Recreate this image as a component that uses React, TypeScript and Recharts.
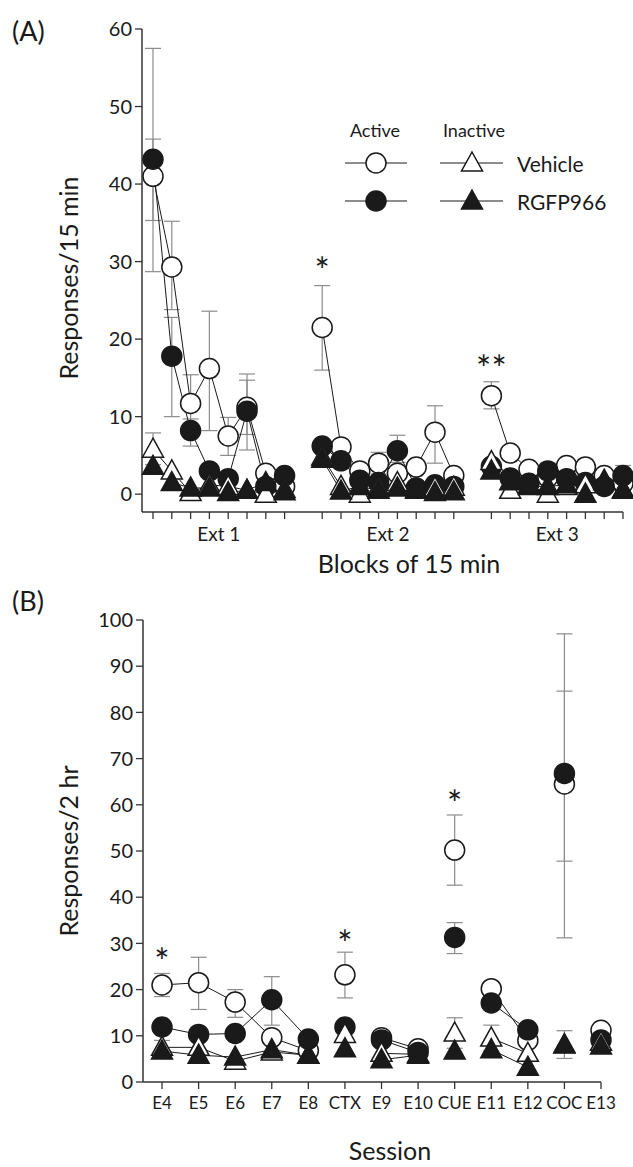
import React from 'react';
import { LineChart, Line, XAxis, YAxis, ErrorBar, ReferenceDot } from 'recharts';

const FONT = 'Lato, "Open Sans", sans-serif';
const INK = '#1a1a1a';
const BAR = '#8c8c8c';

// ---------- Panel A: responses per 15-min block, three extinction sessions ----------
const extNames = ['Ext 1', 'Ext 2', 'Ext 3'];
const blocksPerExt = 8;

// active lever, vehicle (open circles)
const activeVehA = [
  41, 29.3, 11.7, 16.2, 7.5, 11.2, 2.7, 1.0,
  21.5, 6.1, 3.0, 4.0, 2.7, 3.5, 8.0, 2.4,
  12.7, 5.3, 3.2, 2.2, 3.7, 3.5, 2.4, 1.4,
];
// active lever, RGFP966 (filled circles)
const activeDrugA = [
  43.2, 17.8, 8.2, 3.0, 2.0, 10.7, 1.0, 2.4,
  6.2, 4.3, 1.8, 1.5, 5.6, 0.8, 1.2, 1.0,
  3.6, 2.1, 1.4, 3.0, 2.0, 1.5, 1.0, 2.4,
];
// inactive lever, vehicle (open triangles)
const inactiveVehA = [
  5.8, 3.0, 0.2, 1.2, 1.0, 0.5, 0.0, 0.6,
  4.8, 1.0, 0.0, 0.8, 1.5, 0.6, 0.8, 0.9,
  4.2, 0.5, 1.2, 0.0, 1.0, 1.2, 1.6, 0.5,
];
// inactive lever, RGFP966 (filled triangles)
const inactiveDrugA = [
  3.6, 1.5, 0.8, 0.8, 0.2, 0.5, 1.5, 0.3,
  4.5, 0.4, 1.0, 0.5, 0.8, 0.5, 0.2, 0.3,
  3.0, 1.6, 1.0, 1.0, 1.2, 0.0, 1.8, 0.6,
];
// SEM as [below, above]
const activeVehErrA = [
  [12.3, 16.5], [5.5, 5.9], [3, 3.7], [8, 7.4], [2.5, 2.4], [3.5, 4.3], [0.6, 0.6], [0.5, 0.5],
  [5.5, 5.4], [0.8, 0.8], [0.6, 0.6], [1.4, 1.4], [0.8, 0.8], [0.8, 0.8], [4, 3.4], [0.6, 0.6],
  [1.7, 1.8], [0.8, 0.8], [0.6, 0.6], [0.5, 0.5], [0.7, 0.7], [1, 1], [0.6, 0.6], [0.5, 0.5],
];
const activeDrugErrA = [
  [7.9, 2.6], [7.8, 5], [2, 1.5], [0.8, 0.8], [0.6, 0.6], [5, 4], [0.5, 0.5], [0.6, 0.6],
  [0.8, 0.8], [0.6, 0.6], [0.5, 0.5], [0.5, 0.5], [1.5, 2], [0.4, 0.4], [0.5, 0.5], [0.4, 0.4],
  [0.6, 0.6], [0.5, 0.5], [0.5, 0.5], [1, 1], [0.6, 0.6], [0.5, 0.5], [0.4, 0.4], [1.3, 1.3],
];
const inactiveVehErrA = [
  [2, 2.1], null, null, null, null, null, null, null,
  null, null, null, null, null, null, null, null,
  null, null, null, null, null, null, null, null,
];
const starsA = [
  { x: 10, y: 28.8, text: '*' },
  { x: 19, y: 16.1, text: '**' },
];
const yTicksA = [0, 10, 20, 30, 40, 50, 60];

// ---------- Panel B: responses per 2-hr session ----------
const sessions = ['E4', 'E5', 'E6', 'E7', 'E8', 'CTX', 'E9', 'E10', 'CUE', 'E11', 'E12', 'COC', 'E13'];
// sessions sharing a segment id are joined by lines
const sessionSegment = [1, 1, 1, 1, 1, 2, 3, 3, 4, 5, 5, 6, 7];
const activeVehB = [21, 21.5, 17.3, 9.6, 6.8, 23.2, 9.6, 7.2, 50.2, 20.2, 9.0, 64.5, 11.2];
const activeDrugB = [11.9, 10.3, 10.5, 17.8, 9.3, 11.9, 9.1, 6.4, 31.3, 17.1, 11.3, 66.8, 9.1];
const inactiveVehB = [7.5, 7.5, 4.5, 6.5, 5.8, 10.3, 6.2, 6.0, 10.6, 9.5, 6.2, 8.0, 8.6];
const inactiveDrugB = [6.7, 5.8, 5.4, 7.0, 5.8, 7.2, 4.8, 5.8, 6.7, 7.0, 3.2, 8.1, 7.8];
const activeVehErrB = [
  [2.5, 2.5], [5.8, 5.5], [3.3, 2.7], [1, 1], [0.8, 0.8], [5, 4.9], [0.8, 0.8],
  [0.6, 0.6], [7.6, 7.6], [1.5, 1.5], [0.8, 0.8], [33.3, 32.5], [0.8, 0.8],
];
const activeDrugErrB = [
  [1, 1], [1, 1], [1, 1], [5.5, 5], [1, 1], [1, 1], [0.8, 0.8],
  [0.6, 0.6], [3.5, 3.2], [1.5, 1.5], [1, 1], [19, 17.8], [0.8, 0.8],
];
const inactiveVehErrB = [
  [1.5, 1.5], null, null, null, null, [1.5, 1.5], null,
  null, [3.3, 3.3], [2.8, 2.8], null, null, null,
];
const inactiveDrugErrB = [
  null, null, null, null, null, null, null,
  null, null, null, null, [3, 3], null,
];
const starsB = [
  { x: 1, y: 25.9, text: '*' },
  { x: 6, y: 29.8, text: '*' },
  { x: 9, y: 60.1, text: '*' },
];
const yTicksB = [0, 10, 20, 30, 40, 50, 60, 70, 80, 90, 100];

// ---------- rows for the charts ----------
type Row = { [k: string]: any };

const rowsA: Row[] = [];
extNames.forEach((_, s) => {
  // empty row between sessions breaks the lines
  if (s > 0) rowsA.push({ x: s * (blocksPerExt + 1) });
  for (let b = 0; b < blocksPerExt; b++) {
    const i = s * blocksPerExt + b;
    rowsA.push({
      x: s * (blocksPerExt + 1) + b + 1,
      av: activeVehA[i],
      ar: activeDrugA[i],
      iv: inactiveVehA[i],
      ir: inactiveDrugA[i],
      avErr: activeVehErrA[i],
      arErr: activeDrugErrA[i],
      ivErr: inactiveVehErrA[i],
    });
  }
});
const blockTicks = rowsA.filter((r) => r.av != null).map((r) => r.x);
const extCenters = extNames.map((_, s) => s * (blocksPerExt + 1) + (blocksPerExt + 1) / 2);

const rowsB: Row[] = [];
sessions.forEach((_, i) => {
  if (i > 0 && sessionSegment[i] !== sessionSegment[i - 1]) rowsB.push({ x: i + 0.5 });
  rowsB.push({
    x: i + 1,
    av: activeVehB[i],
    ar: activeDrugB[i],
    iv: inactiveVehB[i],
    ir: inactiveDrugB[i],
    avErr: activeVehErrB[i],
    arErr: activeDrugErrB[i],
    ivErr: inactiveVehErrB[i],
    irErr: inactiveDrugErrB[i],
  });
});
const sessionTicks = sessions.map((_, i) => i + 1);

// ---------- markers ----------
const Circle = ({ cx, cy, fill }: { cx: number; cy: number; fill: string }) => (
  <circle cx={cx} cy={cy} r={10} fill={fill} stroke={INK} strokeWidth={1.5} />
);
const Triangle = ({ cx, cy, fill }: { cx: number; cy: number; fill: string }) => (
  <path
    d={`M${cx},${cy - 11} L${cx + 10.5},${cy + 8} L${cx - 10.5},${cy + 8} Z`}
    fill={fill}
    stroke={INK}
    strokeWidth={1.5}
    strokeLinejoin="miter"
  />
);

const dotOf = (Shape: any, fill: string) => (p: any) => {
  if (p.cx == null || p.cy == null || p.value == null || Number.isNaN(p.cy)) {
    return <g key={`e-${p.index}`} />;
  }
  return (
    <g key={`d-${p.index}`}>
      <Shape cx={p.cx} cy={p.cy} fill={fill} />
    </g>
  );
};

const axisLine = { stroke: '#333', strokeWidth: 1.5 };
const tickLine = { stroke: '#333', strokeWidth: 1.3 };
const tickFont = { fontSize: 20, fontFamily: FONT, fill: INK };

const series = [
  { key: 'av', err: 'avErr', shape: Circle, fill: '#fff' },
  { key: 'ar', err: 'arErr', shape: Circle, fill: INK },
  { key: 'iv', err: 'ivErr', shape: Triangle, fill: '#fff' },
  { key: 'ir', err: 'irErr', shape: Triangle, fill: INK },
];

const renderSeries = () =>
  series.map((s) => (
    <Line
      key={s.key}
      dataKey={s.key}
      type="linear"
      stroke={INK}
      strokeWidth={1}
      connectNulls={false}
      dot={dotOf(s.shape, s.fill)}
      activeDot={false}
      isAnimationActive={false}
    >
      <ErrorBar dataKey={s.err} width={8} stroke={BAR} strokeWidth={1.2} direction="y" />
    </Line>
  ));

const renderStars = (stars: { x: number; y: number; text: string }[]) =>
  stars.map((s, i) => (
    <ReferenceDot
      key={`star-${i}`}
      x={s.x}
      y={s.y}
      r={0}
      fill="none"
      stroke="none"
      label={{ value: s.text, position: 'center', fontSize: 36, fontFamily: FONT, fill: INK }}
    />
  ));

const rotatedTitle = (text: string, x: number, y: number) => () => (
  <text
    x={x}
    y={y}
    transform={`rotate(-90 ${x} ${y})`}
    textAnchor="middle"
    dominantBaseline="central"
    fontSize={25}
    fontFamily={FONT}
    fill={INK}
  >
    {text}
  </text>
);

const flatTitle = (text: string, x: number, y: number) => () => (
  <text x={x} y={y} textAnchor="middle" dominantBaseline="central" fontSize={25} fontFamily={FONT} fill={INK}>
    {text}
  </text>
);

const legendRows = [
  { label: 'Vehicle', fill: '#fff' },
  { label: 'RGFP966', fill: INK },
];

const LegendBox = () => (
  <g fontFamily={FONT} fill={INK}>
    <text x={375} y={130} textAnchor="middle" dominantBaseline="central" fontSize={18}>Active</text>
    <text x={474} y={130} textAnchor="middle" dominantBaseline="central" fontSize={18}>Inactive</text>
    {legendRows.map((r, i) => {
      const y = 163 + i * 38;
      return (
        <g key={r.label}>
          <line x1={345} x2={407} y1={y} y2={y} stroke={INK} strokeWidth={1} />
          <Circle cx={376} cy={y} fill={r.fill} />
          <line x1={440} x2={503} y1={y} y2={y} stroke={INK} strokeWidth={1} />
          <Triangle cx={472} cy={y} fill={r.fill} />
          <text x={517} y={y} dominantBaseline="central" fontSize={21}>{r.label}</text>
        </g>
      );
    })}
  </g>
);

export default function App() {
  return (
    <div style={{ position: 'absolute', left: 0, top: 0, width: 633, height: 1167, background: '#fff' }}>
      <div style={{ position: 'absolute', left: 0, top: 0 }}>
        <LineChart width={633} height={590} data={rowsA} margin={{ top: 29, right: 10, bottom: 0, left: 0 }}>
          <XAxis
            dataKey="x"
            type="number"
            domain={[0.415, 26]}
            ticks={blockTicks}
            interval={0}
            tickFormatter={() => ''}
            axisLine={axisLine}
            tickLine={tickLine}
            tickSize={7}
            height={12}
          />
          <XAxis
            xAxisId="grp"
            dataKey="x"
            type="number"
            domain={[0.415, 26]}
            ticks={extCenters}
            interval={0}
            tickFormatter={(v: number) => extNames[extCenters.indexOf(v)] ?? ''}
            axisLine={false}
            tickLine={false}
            tickSize={0}
            tickMargin={4}
            tick={{ fontSize: 19, fontFamily: FONT, fill: INK }}
            height={66}
            label={{ content: flatTitle('Blocks of 15 min', 409, 563) }}
          />
          <YAxis
            type="number"
            domain={[-2.3, 60]}
            ticks={yTicksA}
            interval={0}
            width={142}
            axisLine={axisLine}
            tickLine={tickLine}
            tickSize={7}
            tickMargin={3}
            tick={tickFont}
            label={{ content: rotatedTitle('Responses/15 min', 68, 278) }}
          />
          {renderSeries()}
          {renderStars(starsA)}
        </LineChart>
      </div>
      <div style={{ position: 'absolute', left: 0, top: 590 }}>
        <LineChart width={633} height={577} data={rowsB} margin={{ top: 30, right: 32, bottom: 0, left: 0 }}>
          <XAxis
            dataKey="x"
            type="number"
            domain={[0.48, 13]}
            ticks={sessionTicks}
            interval={0}
            tickFormatter={(v: number) => sessions[v - 1] ?? ''}
            axisLine={axisLine}
            tickLine={tickLine}
            tickSize={7}
            tickMargin={8}
            tick={{ fontSize: 17, fontFamily: FONT, fill: INK }}
            height={85}
            label={{ content: flatTitle('Session', 390, 560) }}
          />
          <YAxis
            type="number"
            domain={[0, 100]}
            ticks={yTicksB}
            interval={0}
            width={143}
            axisLine={axisLine}
            tickLine={tickLine}
            tickSize={7}
            tickMargin={3}
            tick={tickFont}
            label={{ content: rotatedTitle('Responses/2 hr', 68, 261) }}
          />
          {renderSeries()}
          {renderStars(starsB)}
        </LineChart>
      </div>
      <svg
        width={633}
        height={1167}
        style={{ position: 'absolute', left: 0, top: 0, pointerEvents: 'none' }}
      >
        <text x={12} y={30} dominantBaseline="central" fontSize={27} fontFamily={FONT} fill={INK}>(A)</text>
        <text x={12} y={600} dominantBaseline="central" fontSize={27} fontFamily={FONT} fill={INK}>(B)</text>
        <LegendBox />
      </svg>
    </div>
  );
}
